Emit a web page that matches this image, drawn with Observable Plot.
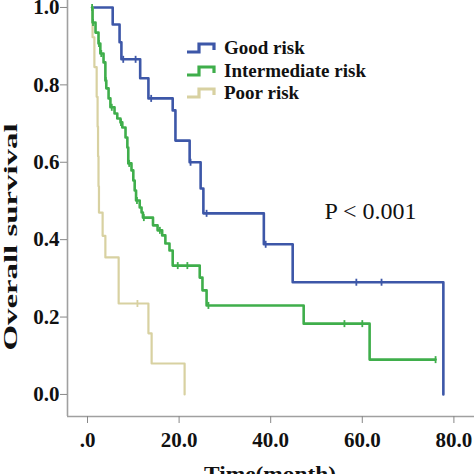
<!DOCTYPE html>
<html>
<head>
<meta charset="utf-8">
<script src="https://cdn.jsdelivr.net/npm/d3@7"></script>
<script src="https://cdn.jsdelivr.net/npm/@observablehq/plot@0.6"></script>
<style>
  html, body { margin: 0; padding: 0; background: #fff; }
  #wrap { position: relative; width: 474px; height: 474px; overflow: hidden; font-family: "Liberation Serif", "Times New Roman", serif; }
  #legend { position: absolute; left: 186px; top: 37px; font-weight: bold; font-size: 19px; line-height: 22.5px; color: #111; }
  #legend div { display: flex; align-items: center; white-space: nowrap; }
  #legend svg { margin-right: 7px; }
</style>
</head>
<body>
<div id="wrap"><div id="legend"></div></div>
<script>
// ---- data ----
const groups = ["Good risk", "Intermediate risk", "Poor risk"];
const colors = ["#3d57a8", "#3fae4b", "#d8d1a1"];

// step drop times and survival after each drop (first entry = curve start)
const goodTime = [1.0, 5.5, 7.0, 7.4, 11.5, 13.3, 18.6, 19.2, 22.3, 24.7, 25.3, 38.5, 44.8, 77.7];
const goodSurv = [1.0, 0.956, 0.91, 0.866, 0.817, 0.765, 0.734, 0.656, 0.600, 0.532, 0.468, 0.388, 0.290, 0.0];
const goodCensor = [7.8, 10.5, 13.9, 22.5, 26.0, 38.9, 58.7, 64.2];

const interTime = [1.0, 1.1, 1.75, 2.4, 2.8, 3.5, 3.9, 4.1, 4.6, 5.0, 5.9, 6.5, 7.2, 7.6, 8.3, 8.7, 8.9, 9.6, 10.0, 10.3, 10.6, 11.4, 11.8, 12.1, 14.3, 15.3, 16.3, 17.0, 17.9, 18.6, 24.5, 25.1, 26.0, 47.2, 61.6, 76.0];
const interSurv = [1.0, 0.961, 0.935, 0.907, 0.881, 0.858, 0.811, 0.791, 0.765, 0.742, 0.726, 0.713, 0.703, 0.690, 0.664, 0.638, 0.597, 0.579, 0.553, 0.527, 0.501, 0.483, 0.470, 0.457, 0.437, 0.424, 0.411, 0.390, 0.372, 0.333, 0.302, 0.269, 0.230, 0.183, 0.090, 0.090];
const interCensor = [1.0, 1.2, 2.5, 3.0, 4.0, 5.3, 7.3, 9.1, 10.8, 12.3, 15.8, 19.7, 21.8, 26.4, 56.1, 60.0, 76.0];

const poorTime = [1.0, 1.1, 1.5, 2.0, 2.2, 2.3, 2.4, 2.5, 3.3, 3.9, 6.8, 13.3, 14.0, 21.2];
const poorSurv = [1.0, 0.923, 0.846, 0.769, 0.692, 0.615, 0.538, 0.470, 0.410, 0.354, 0.235, 0.158, 0.080, 0.0];
const poorCensor = [10.9];

const xTicks = [0, 20, 40, 60, 80];
const yTicks = [0, 0.2, 0.4, 0.6, 0.8, 1.0];
const xDomain = [-4.37, 84.5];
const yDomain = [-0.057, 1.018];
const yTitle = "Overall survival";
const xTitle = "Time(month)";
const pLabel = "P < 0.001";
const pPos = {x: 61.8, y: 0.473};

// ---- build tables ----
const series = [
  {g: groups[0], t: goodTime, s: goodSurv, c: goodCensor},
  {g: groups[1], t: interTime, s: interSurv, c: interCensor},
  {g: groups[2], t: poorTime, s: poorSurv, c: poorCensor}
];
function survAt(t, times, surv) {
  let v = surv[0];
  for (let i = 0; i < times.length; i++) if (times[i] <= t) v = surv[i];
  return v;
}
const curves = series.map(d => ({g: d.g, rows: d.t.map((t, i) => ({time: t, surv: d.s[i], group: d.g}))}));
const censors = series.flatMap(d => d.c.map(t => ({time: t, surv: survAt(t, d.t, d.s), group: d.g})));

const vbar = { draw(ctx, size) { const r = Math.sqrt(size / Math.PI); ctx.moveTo(0, -r); ctx.lineTo(0, r); } };

const order = [0, 2, 1]; // blue, tan, green on top
const widths = [2.6, 2.6, 2.2];

const marks = [
  Plot.ruleX([xDomain[0]], {stroke: "#a0a0a0", strokeWidth: 1.6}),
  Plot.ruleY([yDomain[0]], {stroke: "#a0a0a0", strokeWidth: 1.6}),
  Plot.axisX({ticks: xTicks, tickSize: 7, tickPadding: 9, stroke: "#888", fill: "#111", fontSize: 21, fontWeight: "bold",
    tickFormat: d => d === 0 ? ".0" : d.toFixed(1), label: null}),
  Plot.axisY({ticks: yTicks, tickSize: 7, tickPadding: 1, stroke: "#888", fill: "#111", fontSize: 21, fontWeight: "bold",
    tickFormat: d => d.toFixed(1), label: null}),
];
for (const i of order) {
  marks.push(Plot.line(curves[i].rows, {x: "time", y: "surv", curve: "step-after", stroke: colors[i], strokeWidth: widths[i]}));
  marks.push(Plot.dot(censors.filter(d => d.group === groups[i]), {x: "time", y: "surv", symbol: vbar, r: 3.5, stroke: colors[i], strokeWidth: 1.8, fill: "none"}));
}
marks.push(
  Plot.text([pLabel], {x: pPos.x, y: pPos.y, text: d => d, fontSize: 24, fill: "#111", fontWeight: "normal"}),
  Plot.text([yTitle], {frameAnchor: "left", dx: -57, dy: 142, rotate: -90, textAnchor: "start", text: d => d, fontSize: 19, fontWeight: "bold", fill: "#111"}),
  Plot.text([xTitle], {frameAnchor: "bottom", dx: -67, dy: 50, lineAnchor: "top", textAnchor: "start", text: d => d, fontSize: 21, fontWeight: "bold", fill: "#111"})
);

const chart = Plot.plot({
  width: 474, height: 474,
  marginLeft: 67, marginRight: 0, marginTop: 0, marginBottom: 58,
  x: {domain: xDomain},
  y: {domain: yDomain},
  style: {fontFamily: "'Liberation Serif', 'Times New Roman', serif", background: "#fff", color: "#111", overflow: "visible"},
  marks
});
d3.select(chart).selectAll("text").filter(function() { return this.textContent === yTitle; })
  .attr("textLength", 227).attr("lengthAdjust", "spacingAndGlyphs");
d3.select(chart).selectAll("text").filter(function() { return this.textContent === xTitle; })
  .attr("textLength", 132).attr("lengthAdjust", "spacingAndGlyphs");

const wrap = document.getElementById("wrap");
wrap.insertBefore(chart, wrap.firstChild);

// legend
const legend = d3.select("#legend");
groups.forEach((g, i) => {
  const row = legend.append("div");
  const s = row.append("svg").attr("width", 31).attr("height", 14);
  s.append("path").attr("d", "M1,11 H13 V3 H28 V9").attr("fill", "none").attr("stroke", colors[i]).attr("stroke-width", 3.2);
  row.append("span").text(g);
});
</script>
</body>
</html>
